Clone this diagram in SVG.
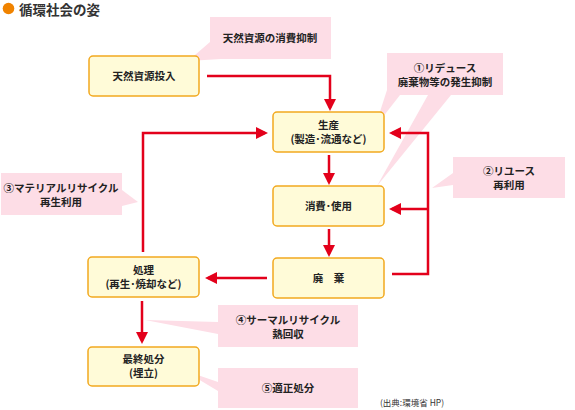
<svg xmlns="http://www.w3.org/2000/svg" width="575" height="410" viewBox="0 0 575 410">
<defs>
<style>
.box{fill:#fffbd8;stroke:#f2a91f;stroke-width:1.5}
.call{fill:#fddde6;stroke:none}
.t{font-family:"Noto Sans CJK JP","Noto Sans",sans-serif;font-size:10.5px;font-weight:bold;fill:#222;text-anchor:middle}
.ln{fill:none;stroke:#e3001b;stroke-width:2.5}
</style>
<marker id="ah" markerUnits="userSpaceOnUse" markerWidth="13" markerHeight="13" refX="9" refY="6" orient="auto">
<path d="M0,0 L12,6 L0,12 z" fill="#e3001b"/>
</marker>
</defs>
<rect width="575" height="410" fill="#ffffff"/>
<g id="title">
<circle cx="8.5" cy="8.5" r="5.8" fill="#f08300"/>
<text x="19" y="14.5" style="font-family:'Noto Sans CJK JP','Noto Sans',sans-serif;font-size:13.5px;font-weight:bold;fill:#333">循環社会の姿</text>
</g>
<g id="callouts">
<g id="c0"><polygon class="call" points="210,17 331,17 331,59 221,59 188,61 210,42"/><text class="t" x="270" y="42">天然資源の消費抑制</text></g>
<g id="c1"><polygon class="call" points="387,53 503,53 503,95 451,95 377,186 428,95 400,95 375,127 387,90"/><text class="t" x="445" y="72">①リデュース</text><text class="t" x="445" y="86">廃棄物等の発生抑制</text></g>
<g id="c2"><polygon class="call" points="453,157 565,157 565,198 453,198 453,185 432,188 453,173"/><text class="t" x="509" y="175">②リユース</text><text class="t" x="509" y="189">再利用</text></g>
<g id="c3"><polygon class="call" points="1,173 122,173 122,190 138,202 122,206 122,215 1,215"/><text class="t" x="61" y="192">③マテリアルリサイクル</text><text class="t" x="61" y="206">再生利用</text></g>
<g id="c4"><polygon class="call" points="218,305 358,305 358,347 218,347 218,334 145,320 218,322"/><text class="t" x="288" y="324">④サーマルリサイクル</text><text class="t" x="288" y="338">熱回収</text></g>
<g id="c5"><polygon class="call" points="218,368 358,368 358,408 218,408 218,391 183,370 218,382"/><text class="t" x="288" y="392">⑤適正処分</text></g>
</g>
<g id="connectors">
<path class="ln" d="M207,76 H330 V108" marker-end="url(#ah)"/>
<path class="ln" d="M143,252 V133 H265" marker-end="url(#ah)"/>
<path class="ln" d="M329,155 V182" marker-end="url(#ah)"/>
<path class="ln" d="M329,229 V254" marker-end="url(#ah)"/>
<path class="ln" d="M267,278 H208" marker-end="url(#ah)"/>
<path class="ln" d="M392,274 H428 V133 H392" marker-end="url(#ah)"/>
<path class="ln" d="M428,209 H392" marker-end="url(#ah)"/>
<path class="ln" d="M142,301 V341" marker-end="url(#ah)"/>
</g>
<g id="n1"><rect class="box" x="89" y="56" width="110" height="40" rx="4"/><text class="t" x="144" y="80">天然資源投入</text></g>
<g id="n2"><rect class="box" x="273" y="112" width="111" height="40" rx="4"/><text class="t" x="328.5" y="129">生産</text><text class="t" x="328.5" y="143">(製造･流通など)</text></g>
<g id="n3"><rect class="box" x="273" y="186" width="111" height="40" rx="4"/><text class="t" x="328.5" y="210">消費･使用</text></g>
<g id="n4"><rect class="box" x="273" y="258" width="111" height="40" rx="4"/><text class="t" x="328.5" y="282">廃　棄</text></g>
<g id="n5"><rect class="box" x="88" y="257" width="111" height="40" rx="4"/><text class="t" x="143.5" y="274">処理</text><text class="t" x="143.5" y="288">(再生･焼却など)</text></g>
<g id="n6"><rect class="box" x="88" y="347" width="111" height="39" rx="4"/><text class="t" x="143.5" y="363">最終処分</text><text class="t" x="143.5" y="377">(埋立)</text></g>
<text x="380" y="406" style="font-family:'Noto Sans CJK JP','Noto Sans',sans-serif;font-size:8.5px;fill:#333">(出典:環境省 HP)</text>
</svg>
